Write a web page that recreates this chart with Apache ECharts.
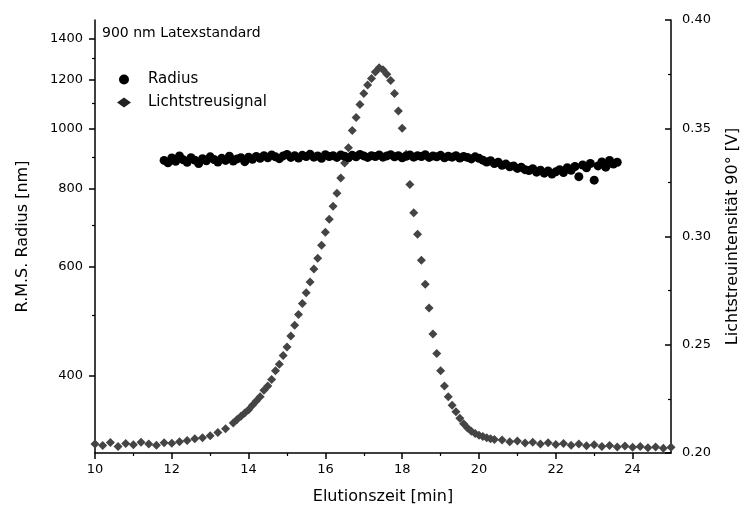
<!DOCTYPE html>
<html>
<head>
<meta charset="utf-8">
<script src="https://cdn.jsdelivr.net/npm/echarts@6/dist/echarts.min.js"></script>
<style>html,body{margin:0;padding:0;background:#fff}#c{width:749px;height:517px}</style>
</head>
<body>
<div id="c"></div>
<script>
// x-axis ticks (Elutionszeit, min)
const xTicks = [10, 12, 14, 16, 18, 20, 22, 24];
// left axis (log) tick labels, nm
const radiusTicks = [400, 600, 800, 1000, 1200, 1400];
const radiusMinorTicks = [500, 700, 900, 1100, 1300];
// right axis ticks, V
const lsTicks = [0.20, 0.25, 0.30, 0.35, 0.40];

// R.M.S. radius series
const radTime = [11.8,11.9,12.0,12.1,12.2,12.3,12.4,12.5,12.6,12.7,12.8,12.9,13.0,13.1,13.2,13.3,13.4,13.5,13.6,13.7,13.8,13.9,14.0,14.1,14.2,14.3,14.4,14.5,14.6,14.7,14.8,14.9,15.0,15.1,15.2,15.3,15.4,15.5,15.6,15.7,15.8,15.9,16.0,16.1,16.2,16.3,16.4,16.5,16.6,16.7,16.8,16.9,17.0,17.1,17.2,17.3,17.4,17.5,17.6,17.7,17.8,17.9,18.0,18.1,18.2,18.3,18.4,18.5,18.6,18.7,18.8,18.9,19.0,19.1,19.2,19.3,19.4,19.5,19.6,19.7,19.8,19.9,20.0,20.1,20.2,20.3,20.4,20.5,20.6,20.7,20.8,20.9,21.0,21.1,21.2,21.3,21.4,21.5,21.6,21.7,21.8,21.9,22.0,22.1,22.2,22.3,22.4,22.5,22.6,22.7,22.8,22.9,23.0,23.1,23.2,23.3,23.4,23.5,23.6];
const radValue = [890,882,898,887,905,892,884,899,891,880,896,889,902,893,885,897,890,904,888,895,899,886,901,894,903,897,906,899,908,902,896,905,910,900,906,898,907,903,911,901,905,897,909,903,906,900,908,904,899,907,902,910,905,900,906,903,908,901,905,909,902,906,899,904,908,901,906,903,909,900,905,902,907,899,904,901,906,898,903,900,895,902,897,891,885,889,880,884,874,878,869,872,864,868,860,857,863,852,858,849,856,846,853,860,851,866,858,870,838,875,866,880,827,872,885,868,890,878,884];

// light-scattering signal series
const lsTime = [10.0,10.2,10.4,10.6,10.8,11.0,11.2,11.4,11.6,11.8,12.0,12.2,12.4,12.6,12.8,13.0,13.2,13.4,13.6,13.7,13.8,13.9,14.0,14.1,14.2,14.3,14.4,14.5,14.6,14.7,14.8,14.9,15.0,15.1,15.2,15.3,15.4,15.5,15.6,15.7,15.8,15.9,16.0,16.1,16.2,16.3,16.4,16.5,16.6,16.7,16.8,16.9,17.0,17.1,17.2,17.3,17.4,17.5,17.6,17.7,17.8,17.9,18.0,18.1,18.2,18.3,18.4,18.5,18.6,18.7,18.8,18.9,19.0,19.1,19.2,19.3,19.4,19.5,19.6,19.7,19.8,19.9,20.0,20.1,20.2,20.3,20.4,20.6,20.8,21.0,21.2,21.4,21.6,21.8,22.0,22.2,22.4,22.6,22.8,23.0,23.2,23.4,23.6,23.8,24.0,24.2,24.4,24.6,24.8,25.0];
const lsValue = [0.2042,0.2035,0.2048,0.2030,0.2044,0.2038,0.2050,0.2041,0.2036,0.2047,0.2045,0.2052,0.2058,0.2066,0.2071,0.2080,0.2095,0.2112,0.2138,0.2155,0.2170,0.2185,0.2200,0.2220,0.2240,0.2260,0.2290,0.2310,0.2340,0.2380,0.2410,0.2450,0.2490,0.2540,0.2590,0.2640,0.2690,0.2740,0.2790,0.2850,0.2900,0.2960,0.3020,0.3080,0.3140,0.3200,0.3270,0.3340,0.3410,0.3490,0.3550,0.3610,0.3660,0.3700,0.3730,0.3760,0.3780,0.3770,0.3750,0.3720,0.3660,0.3580,0.3500,0.3380,0.3240,0.3110,0.3010,0.2890,0.2780,0.2670,0.2550,0.2460,0.2380,0.2310,0.2260,0.2220,0.2190,0.2160,0.2135,0.2115,0.2100,0.2090,0.2082,0.2076,0.2070,0.2066,0.2062,0.2060,0.2052,0.2055,0.2046,0.2050,0.2042,0.2047,0.2039,0.2044,0.2036,0.2041,0.2033,0.2038,0.2030,0.2035,0.2028,0.2032,0.2026,0.2030,0.2024,0.2028,0.2022,0.2026];

const radData = radTime.map((t, i) => [t, radValue[i]]);
const lsData = lsTime.map((t, i) => [t, lsValue[i]]);

const FONT = 'DejaVu Sans';
const chart = echarts.init(document.getElementById('c'), null, {renderer: 'canvas'});
chart.setOption({
  animation: false,
  backgroundColor: '#fff',
  textStyle: {fontFamily: FONT, color: '#000'},
  title: {
    text: '900 nm Latexstandard', left: 97, top: 21,
    textStyle: {fontFamily: FONT, fontSize: 14, fontWeight: 'normal', color: '#000'}
  },
  legend: {
    orient: 'vertical', left: 112, top: 67, itemGap: 8,
    itemWidth: 14, itemHeight: 10,
    textStyle: {fontFamily: FONT, fontSize: 15, color: '#000', padding: [0, 0, 0, 12]},
    data: [
      {name: 'Radius', icon: 'circle', itemStyle: {color: '#000'}},
      {name: 'Lichtstreusignal', icon: 'diamond', itemStyle: {color: '#222'}}
    ]
  },
  grid: {left: 95, right: 74, top: 20, bottom: 64},
  xAxis: {
    type: 'value', min: 10, max: 25, interval: 2,
    name: 'Elutionszeit [min]', nameLocation: 'middle', nameGap: 36,
    nameTextStyle: {fontFamily: FONT, fontSize: 16, color: '#000'},
    axisLine: {show: true, onZero: false, lineStyle: {color: '#000', width: 1.5}},
    axisTick: {show: true, inside: false, length: 6, customValues: xTicks, lineStyle: {color: '#000', width: 1.5}},
    minorTick: {show: true, splitNumber: 2, length: 3, lineStyle: {color: '#000', width: 1.2}},
    axisLabel: {customValues: xTicks, fontFamily: FONT, fontSize: 13, color: '#000', margin: 10},
    splitLine: {show: false}
  },
  yAxis: [
    {
      type: 'log', logBase: 10, min: 300, max: 1500, position: 'left',
      name: 'R.M.S. Radius [nm]', nameLocation: 'middle', nameGap: 64,
      nameTextStyle: {fontFamily: FONT, fontSize: 16, color: '#000'},
      axisLine: {show: true, lineStyle: {color: '#000', width: 1.5}},
      axisTick: {show: true, inside: false, length: 6, customValues: radiusTicks, lineStyle: {color: '#000', width: 1.5}},
      axisLabel: {customValues: radiusTicks, fontFamily: FONT, fontSize: 13, color: '#000', margin: 12, formatter: v => String(Math.round(v))},
      splitLine: {show: false}
    },
    {
      type: 'value', min: 0.20, max: 0.40, interval: 0.05, position: 'right',
      name: 'Lichtstreuintensität 90° [V]', nameLocation: 'middle', nameGap: 54,
      nameTextStyle: {fontFamily: FONT, fontSize: 16, color: '#000'},
      axisLine: {show: true, lineStyle: {color: '#000', width: 1.5}},
      axisTick: {show: true, inside: true, length: 6, lineStyle: {color: '#000', width: 1.5}},
      minorTick: {show: true, splitNumber: 2, length: 3, lineStyle: {color: '#000', width: 1.2}},
      axisLabel: {fontFamily: FONT, fontSize: 13, color: '#000', margin: 11, formatter: v => v.toFixed(2)},
      splitLine: {show: false}
    },
    {
      type: 'log', logBase: 10, min: 300, max: 1500, position: 'left',
      axisLine: {show: false},
      axisTick: {show: true, inside: false, length: 3, customValues: radiusMinorTicks, lineStyle: {color: '#000', width: 1.2}},
      axisLabel: {show: false},
      splitLine: {show: false}
    }
  ],
  series: [
    {
      name: 'Radius', type: 'scatter', yAxisIndex: 0, data: radData,
      symbol: 'circle', symbolSize: 9, itemStyle: {color: '#000', opacity: 1}, z: 3
    },
    {
      name: 'Lichtstreusignal', type: 'scatter', yAxisIndex: 1, data: lsData,
      symbol: 'diamond', symbolSize: 9, itemStyle: {color: '#444', opacity: 1}, z: 2
    }
  ]
});
</script>
</body>
</html>
